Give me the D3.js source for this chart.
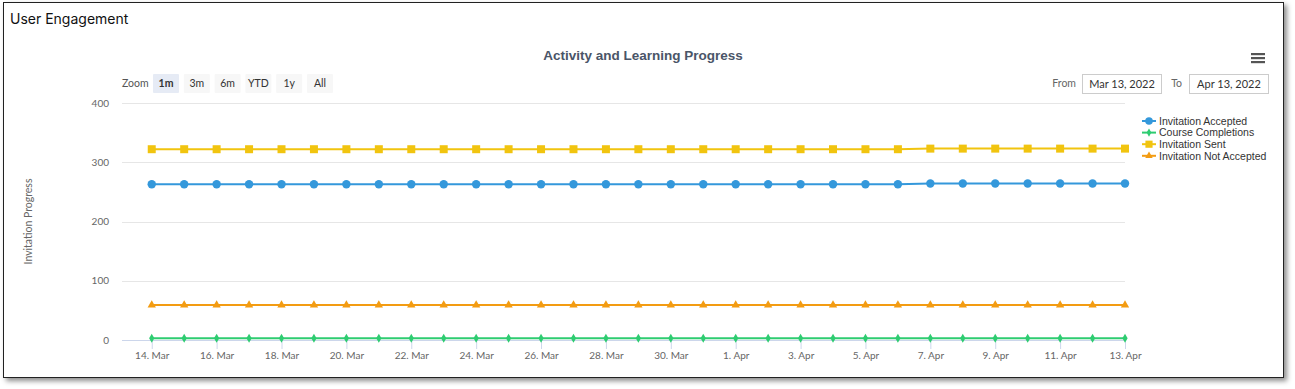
<!DOCTYPE html>
<html>
<head>
<meta charset="utf-8">
<script src="https://cdn.jsdelivr.net/npm/d3@7"></script>
<style>
  body { margin: 0; background: #fff; }
  #card {
    position: absolute; left: 3px; top: 2px; width: 1279px; height: 374px;
    border: 1.5px solid #222; box-shadow: 3px 3px 5px rgba(0,0,0,0.45); background: #fff;
  }
  #chart { position: absolute; left: 0; top: 0; }
</style>
</head>
<body>
<div id="card"></div>
<div id="chart"></div>
<script>
// chart size and plot box
const width = 1295;
const height = 389;
const margin = {left: 122, right: 170, top: 103, bottom: 49};

// data
const dates = [
  "2022-03-14","2022-03-15","2022-03-16","2022-03-17","2022-03-18","2022-03-19","2022-03-20",
  "2022-03-21","2022-03-22","2022-03-23","2022-03-24","2022-03-25","2022-03-26","2022-03-27",
  "2022-03-28","2022-03-29","2022-03-30","2022-03-31","2022-04-01","2022-04-02","2022-04-03",
  "2022-04-04","2022-04-05","2022-04-06","2022-04-07","2022-04-08","2022-04-09","2022-04-10",
  "2022-04-11","2022-04-12","2022-04-13"
];
const invitationAccepted = [263,263,263,263,263,263,263,263,263,263,263,263,263,263,263,263,263,263,263,263,263,263,263,263,264,264,264,264,264,264,264];
const courseCompletions = [3,3,3,3,3,3,3,3,3,3,3,3,3,3,3,3,3,3,3,3,3,3,3,3,3,3,3,3,3,3,3];
const invitationSent = [322,322,322,322,322,322,322,322,322,322,322,322,322,322,322,322,322,322,322,322,322,322,322,322,323,323,323,323,323,323,323];
const invitationNotAccepted = [59,59,59,59,59,59,59,59,59,59,59,59,59,59,59,59,59,59,59,59,59,59,59,59,59,59,59,59,59,59,59];
const yTicks = [0, 100, 200, 300, 400];
const zoomButtons = ["1m", "3m", "6m", "YTD", "1y", "All"];
const rangeFrom = "Mar 13, 2022";
const rangeTo = "Apr 13, 2022";

const series = [
  {name: "Invitation Accepted", values: invitationAccepted, color: "#3498db", symbol: d3.symbolCircle, size: 56},
  {name: "Course Completions", values: courseCompletions, color: "#2ecc71", symbol: d3.symbolDiamond, size: 24},
  {name: "Invitation Sent", values: invitationSent, color: "#f1c40f", symbol: d3.symbolSquare, size: 64},
  {name: "Invitation Not Accepted", values: invitationNotAccepted, color: "#f39c12", symbol: d3.symbolTriangle, size: 30}
];

const parse = d3.timeParse("%Y-%m-%d");
const days = dates.map(parse);

const svg = d3.select("#chart")
  .append("svg")
  .attr("width", width)
  .attr("height", height)
  .style("font-family", "Lato, 'Open Sans', sans-serif");

// scales
const xScale = d3.scaleTime()
  .domain([d3.timeHour.offset(days[0], -22), days[days.length - 1]])
  .range([margin.left, width - margin.right]);

const yScale = d3.scaleLinear()
  .domain([0, 400])
  .range([height - margin.bottom, margin.top]);

// card header
svg.append("text")
  .attr("x", 10).attr("y", 24)
  .attr("font-family", "Inter, 'Open Sans', sans-serif")
  .attr("font-size", "14px").attr("fill", "#111")
  .text("User Engagement");

// chart title
svg.append("text")
  .attr("x", 643).attr("y", 60)
  .attr("text-anchor", "middle")
  .attr("font-family", "'Liberation Sans', Arial, sans-serif")
  .attr("font-weight", "bold").attr("font-size", "13.5px").attr("fill", "#4a5568")
  .text("Activity and Learning Progress");

// menu icon
const menu = svg.append("g").attr("transform", "translate(1251,53)");
[0, 4, 8].forEach(dy => {
  menu.append("rect").attr("x", 0).attr("y", dy).attr("width", 14).attr("height", 2.2).attr("fill", "#555");
});

// zoom buttons
svg.append("text")
  .attr("x", 122).attr("y", 87)
  .attr("font-size", "10.5px").attr("fill", "#555")
  .text("Zoom");
const btn = svg.selectAll(".btn")
  .data(zoomButtons)
  .enter().append("g")
  .attr("class", "btn")
  .attr("transform", (d, i) => `translate(${153 + i * 30.8},74)`);
btn.append("rect")
  .attr("width", 26).attr("height", 19).attr("rx", 1)
  .attr("fill", (d, i) => i === 0 ? "#e6ebf5" : "#f7f7f7");
btn.append("text")
  .attr("x", 13).attr("y", 13)
  .attr("text-anchor", "middle")
  .attr("font-size", "10.5px")
  .attr("font-weight", (d, i) => i === 0 ? "bold" : "normal")
  .attr("fill", "#333")
  .text(d => d);

// date range inputs
svg.append("text").attr("x", 1076).attr("y", 87).attr("text-anchor", "end")
  .attr("font-size", "10.5px").attr("fill", "#666").text("From");
svg.append("text").attr("x", 1182).attr("y", 87).attr("text-anchor", "end")
  .attr("font-size", "10.5px").attr("fill", "#666").text("To");
[[1082, rangeFrom], [1189, rangeTo]].forEach(([x, t]) => {
  svg.append("rect").attr("x", x + 0.5).attr("y", 74.5).attr("width", 79).attr("height", 19)
    .attr("fill", "#fff").attr("stroke", "#cccccc");
  svg.append("text").attr("x", x + 40).attr("y", 88).attr("text-anchor", "middle")
    .attr("font-size", "11px").attr("fill", "#333").text(t);
});

// gridlines
svg.append("g")
  .selectAll("line")
  .data(yTicks.filter(t => t > 0))
  .enter().append("line")
  .attr("x1", margin.left).attr("x2", width - margin.right)
  .attr("y1", d => Math.round(yScale(d)) + 0.5).attr("y2", d => Math.round(yScale(d)) + 0.5)
  .attr("stroke", "#e6e6e6");

// y axis labels
const yAxis = svg.append("g")
  .attr("transform", `translate(${margin.left - 13},0)`)
  .call(d3.axisLeft(yScale).tickValues(yTicks).tickSize(0).tickPadding(0));
yAxis.select(".domain").remove();
yAxis.selectAll("text").attr("font-size", "10px").attr("fill", "#666").attr("font-family", "Lato, sans-serif");

svg.append("text")
  .attr("transform", `translate(32,${yScale(200)}) rotate(-90)`)
  .attr("text-anchor", "middle")
  .attr("font-size", "10.5px").attr("fill", "#666")
  .text("Invitation Progress");

// x axis
const xTicks = days.filter((d, i) => i % 2 === 0);
const xAxis = svg.append("g")
  .attr("transform", `translate(0,${height - margin.bottom})`)
  .call(d3.axisBottom(xScale).tickValues(xTicks).tickFormat(d3.timeFormat("%-d. %b")).tickSize(9).tickPadding(3));
xAxis.select(".domain")
  .attr("d", `M${margin.left},0.5H${width - margin.right}`)
  .attr("stroke", "#ccd6eb");
xAxis.selectAll(".tick line").attr("stroke", "#ccd6eb");
xAxis.selectAll("text").attr("font-size", "10px").attr("fill", "#666").attr("font-family", "Lato, sans-serif");

// series lines and markers
const line = d3.line()
  .x((d, i) => xScale(days[i]))
  .y(d => yScale(d));

series.forEach(s => {
  svg.append("path")
    .datum(s.values)
    .attr("d", line)
    .attr("fill", "none")
    .attr("stroke", s.color)
    .attr("stroke-width", 2);
  svg.append("g")
    .selectAll("path")
    .data(s.values)
    .enter().append("path")
    .attr("transform", (d, i) => `translate(${xScale(days[i])},${yScale(d)})`)
    .attr("d", d3.symbol().type(s.symbol).size(s.size))
    .attr("fill", s.color);
});

// legend
const legend = svg.selectAll(".legend")
  .data(series)
  .enter().append("g")
  .attr("class", "legend")
  .attr("transform", (d, i) => `translate(1142,${121 + i * 11.6})`);
legend.append("line")
  .attr("x1", 0).attr("x2", 14)
  .attr("stroke", d => d.color).attr("stroke-width", 2);
legend.append("path")
  .attr("transform", "translate(7,0)")
  .attr("d", d => d3.symbol().type(d.symbol).size(d.size * 0.8)())
  .attr("fill", d => d.color);
legend.append("text")
  .attr("x", 17).attr("y", 3.8)
  .attr("font-family", "'Liberation Sans', Arial, sans-serif")
  .attr("font-size", "10.5px").attr("fill", "#333")
  .text(d => d.name);
</script>
</body>
</html>
